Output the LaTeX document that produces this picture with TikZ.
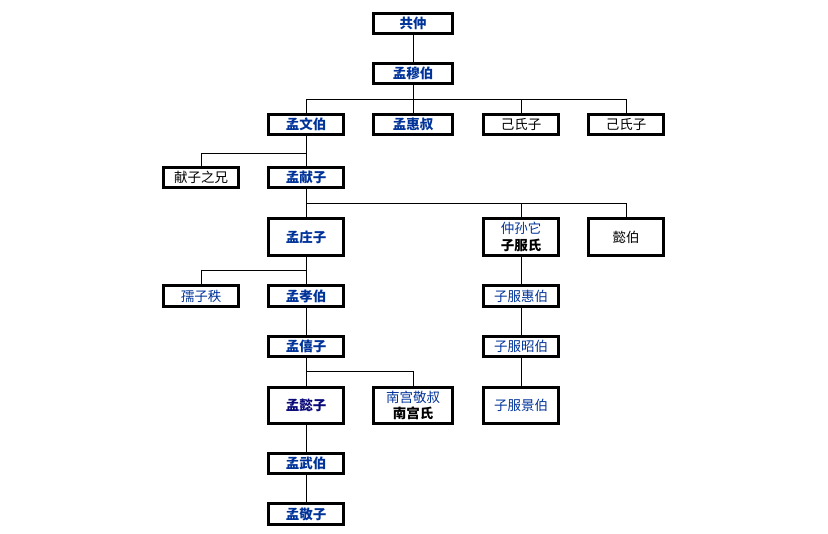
\documentclass[tikz,border=0pt]{standalone}
\usepackage{fontspec}
\setmainfont{Noto Sans CJK SC}
\newfontfamily\cjk{Noto Sans CJK SC}
\definecolor{mainblue}{RGB}{0,51,153}
\definecolor{navyblue}{RGB}{10,10,120}
\begin{document}
\begin{tikzpicture}[x=1pt,y=-1pt,
  box/.style={draw=black,line width=2.6pt,rectangle,minimum width=75.5pt,minimum height=20.5pt,inner sep=0pt,outer sep=0pt,font=\cjk\fontsize{13.5}{16.5}\selectfont,align=center},
  wide/.style={minimum width=79.5pt},
  tall/.style={minimum height=36.5pt},
  mainn/.style={text=mainblue,font=\cjk\bfseries\fontsize{13.5}{16.5}\selectfont},
  sidenb/.style={text=mainblue},
  plain/.style={text=black},
  link/.style={draw=black,line width=0.8pt}]
\useasboundingbox (0,0) rectangle (828,534);
\fill[white] (0,0) rectangle (828,534);
% nodes
\node[box,wide,mainn] (gongzhong) at (413,23.5) {共仲};
\node[box,wide,mainn] (mumu) at (413,73.5) {孟穆伯};
\node[box,mainn] (wenbo) at (306,124.5) {孟文伯};
\node[box,wide,mainn] (huishu) at (413,124.5) {孟惠叔};
\node[box,plain] (jishi1) at (521,124.5) {己氏子};
\node[box,plain] (jishi2) at (626,124.5) {己氏子};
\node[box,plain] (xianxiong) at (201,177.5) {献子之兄};
\node[box,mainn] (xianzi) at (306,177.5) {孟献子};
\node[box,tall,mainn] (zhuangzi) at (306,237) {孟庄子};
\node[box,tall] (zhongsun) at (521,237) {\textcolor{mainblue}{仲孙它}\\\textbf{子服氏}};
\node[box,tall,plain] (yibo) at (626,237) {懿伯};
\node[box,sidenb] (ruzi) at (201,296) {孺子秩};
\node[box,mainn] (xiaobo) at (306,296) {孟孝伯};
\node[box,sidenb] (huibo) at (521,296) {子服惠伯};
\node[box,mainn] (xizi) at (306,346.5) {孟僖子};
\node[box,sidenb] (zhaobo) at (521,346.5) {子服昭伯};
\node[box,tall,mainn,text=navyblue] (yizi) at (306,405.5) {孟懿子};
\node[box,tall,wide] (nangong) at (413,405.5) {\textcolor{mainblue}{南宫敬叔}\\\textbf{南宫氏}};
\node[box,tall,sidenb] (jingbo) at (521,405.5) {子服景伯};
\node[box,mainn] (wubo) at (306,463.5) {孟武伯};
\node[box,mainn] (jingzi) at (306,514) {孟敬子};
% connectors
\draw[link] (gongzhong.south) -- (mumu.north);
\draw[link] (mumu.south) -- (mumu.south |- 0,99);
\draw[link] (wenbo.north) -- (wenbo.north |- 0,99) -- (jishi2.north |- 0,99) -- (jishi2.north);
\draw[link] (huishu.north) -- (huishu.north |- 0,99);
\draw[link] (jishi1.north) -- (jishi1.north |- 0,99);
\draw[link] (wenbo.south) -- (xianzi.north);
\draw[link] (xianxiong.north) -- (xianxiong.north |- 0,153) -- (wenbo.south |- 0,153);
\draw[link] (xianzi.south) -- (xianzi.south |- 0,203);
\draw[link] (zhuangzi.north) -- (zhuangzi.north |- 0,203) -- (yibo.north |- 0,203) -- (yibo.north);
\draw[link] (zhongsun.north) -- (zhongsun.north |- 0,203);
\draw[link] (zhuangzi.south) -- (xiaobo.north);
\draw[link] (ruzi.north) -- (ruzi.north |- 0,270) -- (zhuangzi.south |- 0,270);
\draw[link] (xiaobo.south) -- (xizi.north);
\draw[link] (xizi.south) -- (yizi.north);
\draw[link] (nangong.north) -- (nangong.north |- 0,371) -- (xizi.south |- 0,371);
\draw[link] (yizi.south) -- (wubo.north);
\draw[link] (wubo.south) -- (jingzi.north);
\draw[link] (zhongsun.south) -- (huibo.north);
\draw[link] (huibo.south) -- (zhaobo.north);
\draw[link] (zhaobo.south) -- (jingbo.north);
\end{tikzpicture}
\end{document}
